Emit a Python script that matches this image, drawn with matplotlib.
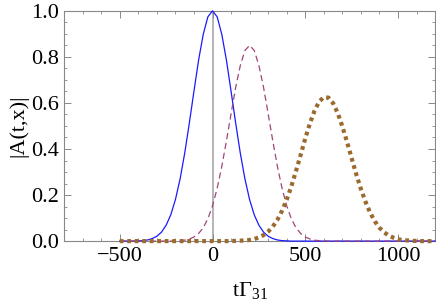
import matplotlib
matplotlib.use("Agg")
import matplotlib.pyplot as plt
from matplotlib.ticker import MultipleLocator

# time grid (t Gamma_31), step 25
t = list(range(-500, 1201, 25))

# |A(t,x)| at three positions
a_x0 = [0, 0, 0, 0,
        0.001, 0.002, 0.005, 0.011, 0.021, 0.039, 0.069, 0.114, 0.180, 0.269,
        0.381, 0.512, 0.651, 0.786, 0.898, 0.974, 1.0, 0.974, 0.898, 0.786,
        0.651, 0.512, 0.381, 0.269, 0.180, 0.114, 0.069, 0.039, 0.021, 0.011,
        0.005, 0.002, 0.001] + [0] * 32

a_x1 = [0] * 12 + [
        0.001, 0.002, 0.004, 0.009, 0.018, 0.033, 0.058, 0.097, 0.153, 0.229,
        0.324, 0.435, 0.553, 0.668, 0.763, 0.828, 0.85, 0.828, 0.763, 0.668,
        0.553, 0.435, 0.324, 0.229, 0.153, 0.097, 0.058, 0.033, 0.018, 0.009,
        0.004, 0.002, 0.001] + [0] * 24

a_x2 = [0] * 25 + [
        0.001, 0.002, 0.003, 0.005, 0.009, 0.016, 0.026, 0.041, 0.063, 0.093,
        0.132, 0.180, 0.238, 0.304, 0.374, 0.446, 0.511, 0.566, 0.606, 0.625,
        0.623, 0.599, 0.556, 0.498, 0.431, 0.360, 0.290, 0.226, 0.170, 0.123,
        0.086, 0.058, 0.038, 0.024, 0.015, 0.008, 0.005, 0.003, 0.001, 0.001] + [0] * 4

plt.rcParams['font.family'] = ['Liberation Serif', 'DejaVu Serif']
plt.rcParams['mathtext.fontset'] = 'stix'

fig = plt.figure(figsize=(4.36, 3.01), dpi=100)
ax = fig.add_axes([0.147, 0.199, 0.851, 0.765])

ax.plot(t, a_x0, color='#1a1aff', lw=0.9, clip_on=False, zorder=3)
ax.plot(t, a_x1, color='#a0457a', lw=0.9, dashes=(5, 3), clip_on=False, zorder=3)
ax.plot(t, a_x2, color='#9b6a2f', lw=3.0, dashes=(0.9, 0.9), clip_on=False, zorder=4)
ax.plot([0, 0], [0, 1], color='#a8a8a8', lw=1.2, zorder=1)

ax.set_xlim(-800, 1200)
ax.set_ylim(0, 1.0)
ax.xaxis.set_major_locator(MultipleLocator(500))
ax.xaxis.set_minor_locator(MultipleLocator(100))
ax.yaxis.set_major_locator(MultipleLocator(0.2))
ax.yaxis.set_minor_locator(MultipleLocator(0.05))
ax.set_yticks([0, 0.2, 0.4, 0.6, 0.8, 1.0])
ax.set_yticklabels(['0.0', '0.2', '0.4', '0.6', '0.8', '1.0'])
ax.set_xticks([-500, 0, 500, 1000])
ax.set_xticklabels(['\u2212500', '0', '500', '1000'])

for s in ax.spines.values():
    s.set_color('#888888')
    s.set_linewidth(0.8)
ax.tick_params(which='both', direction='in', top=True, right=True,
               colors='#888888', labelcolor='black', labelsize=16)
ax.tick_params(which='major', length=5, width=0.7, pad=4)
ax.tick_params(which='minor', length=2.5, width=0.6)

ax.set_ylabel('|A(t,x)|', fontsize=16, labelpad=2)
ax.set_xlabel(r'$\mathregular{t\Gamma_{31}}$', fontsize=16, labelpad=10)

fig.savefig('out.png', dpi=100)
